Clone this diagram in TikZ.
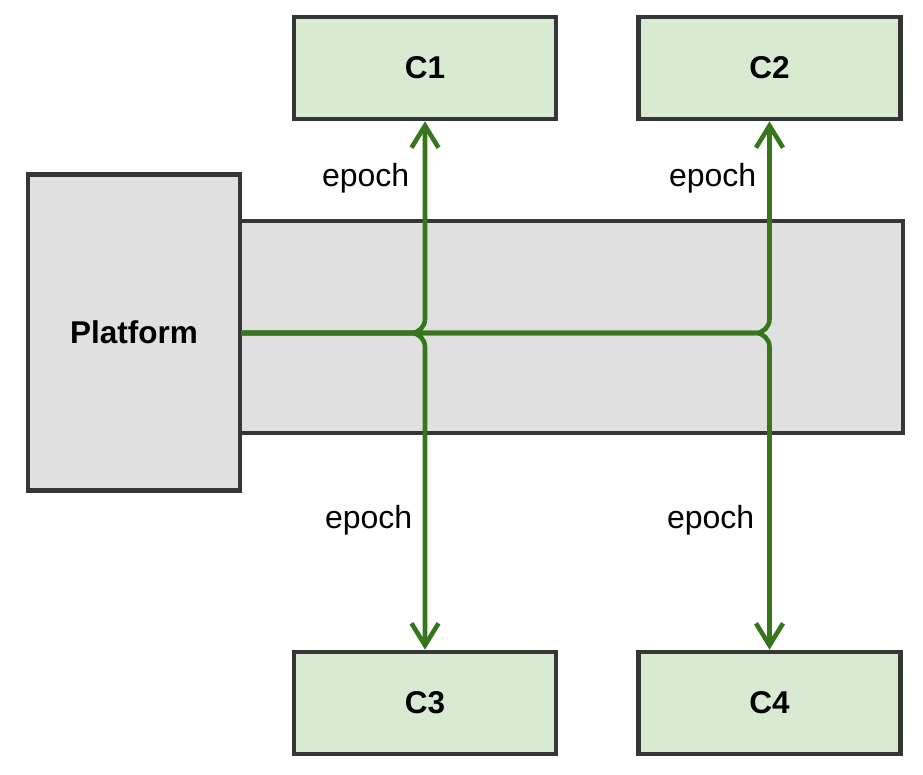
\documentclass[tikz,border=0pt]{standalone}
\usepackage{fontspec}
\setmainfont{Liberation Sans}
\usetikzlibrary{arrows.meta}
\definecolor{boxgray}{HTML}{E0E0E0}
\definecolor{boxline}{HTML}{363636}
\definecolor{cfill}{HTML}{D9EAD3}
\definecolor{linkgreen}{HTML}{38761D}
\tikzset{
  graybox/.style={draw=boxline, fill=boxgray, line width=4.6pt, inner sep=0pt},
  cbox/.style={draw=boxline, fill=cfill, line width=4.6pt, inner sep=0pt,
    minimum width=262pt, minimum height=102pt, font=\fontsize{31.5}{36}\selectfont\bfseries},
  link/.style={draw=linkgreen, line width=4.6pt, rounded corners=14pt,
    -{Straight Barb[length=22pt,width=27pt]}},
  lbl/.style={font=\fontsize{32}{36}\selectfont, inner sep=0pt, anchor=east}
}
\begin{document}
\begin{tikzpicture}[x=1pt,y=-1pt]
\useasboundingbox (0,0) rectangle (923,775);
\node[graybox, minimum width=663pt, minimum height=212pt] (bus) at (571.5,327) {};
\node[graybox, minimum width=212pt, minimum height=316pt,
      font=\fontsize{31.5}{36}\selectfont\bfseries] (plat) at (134,332.5) {Platform};
\node[cbox] (c1) at (425,68) {C1};
\node[cbox] (c2) at (769.5,68) {C2};
\node[cbox] (c3) at (425,703) {C3};
\node[cbox] (c4) at (769.5,703) {C4};
\coordinate (start) at (241,333);
\draw[link] (start) -| (c1.south);
\draw[link] (start) -| (c2.south);
\draw[link] (start) -| (c3.north);
\draw[link] (start) -| (c4.north);
\node[lbl] (e1) at (409.5,178) {epoch};
\node[lbl] (e2) at (756.5,178) {epoch};
\node[lbl] (e3) at (412.5,520) {epoch};
\node[lbl] (e4) at (754.5,520) {epoch};
\end{tikzpicture}
\end{document}
